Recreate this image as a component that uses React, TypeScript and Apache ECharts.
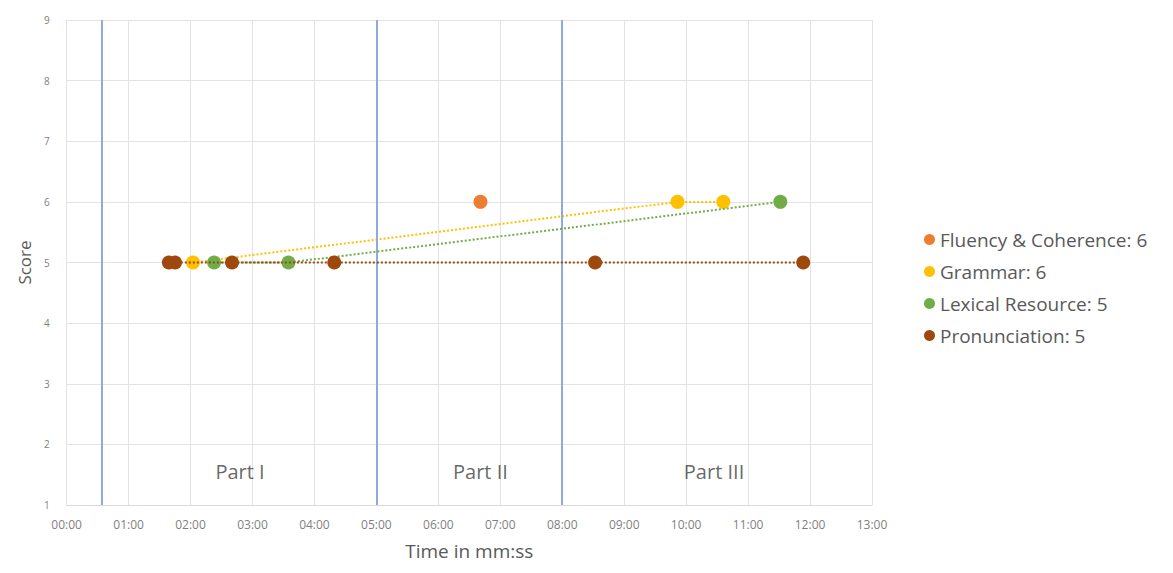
import { useEffect, useRef } from "react";
import * as echarts from "echarts";

// times are in minutes, scores on the 1-9 band scale
const fluencyTimes = [6.68];
const fluencyScores = [6];
const grammarTimes = [2.04, 9.86, 10.6];
const grammarScores = [5, 6, 6];
const lexicalTimes = [2.38, 3.58, 11.52];
const lexicalScores = [5, 5, 6];
const pronunciationTimes = [1.65, 1.75, 2.67, 4.32, 8.53, 11.89];
const pronunciationScores = [5, 5, 5, 5, 5, 5];

const seriesNames = [
  "Fluency & Coherence: 6",
  "Grammar: 6",
  "Lexical Resource: 5",
  "Pronunciation: 5",
];
const seriesColors = ["#ED7D31", "#FFC000", "#70AD47", "#9E480E"];

// part boundaries (minutes) and part labels
const partBounds = [0.56, 5, 8];
const partLabels = ["Part I", "Part II", "Part III"];
const partLabelTimes = [2.8, 6.68, 10.45];
const partLabelScore = 1.55;

const FONT = "'Open Sans', Lato, sans-serif";

function toPairs(xs: number[], ys: number[]): [number, number][] {
  return xs.map((x, i) => [x, ys[i]]);
}

function fmtTime(v: number): string {
  return String(Math.round(v)).padStart(2, "0") + ":00";
}

function App() {
  const chartRef = useRef<HTMLDivElement>(null);

  useEffect(() => {
    if (!chartRef.current) return;
    const chart = echarts.init(chartRef.current, null, { renderer: "svg" });

    const seriesData = [
      toPairs(fluencyTimes, fluencyScores),
      toPairs(grammarTimes, grammarScores),
      toPairs(lexicalTimes, lexicalScores),
      toPairs(pronunciationTimes, pronunciationScores),
    ];

    chart.setOption({
      animation: false,
      textStyle: { fontFamily: FONT },
      grid: { left: 52, right: 293, top: 12, bottom: 53 },
      legend: {
        orient: "vertical",
        left: 911,
        top: 217,
        itemGap: 13,
        icon: "circle",
        itemWidth: 11,
        itemHeight: 11,
        textStyle: { fontSize: 19, color: "#595959", fontFamily: FONT },
        data: seriesNames,
      },
      xAxis: {
        type: "value",
        min: 0,
        max: 13,
        interval: 1,
        name: "Time in mm:ss",
        nameLocation: "middle",
        nameGap: 36,
        nameTextStyle: { fontSize: 19, color: "#595959" },
        axisLine: { show: true, lineStyle: { color: "#D9D9D9" } },
        axisTick: { show: false },
        axisLabel: {
          fontSize: 12,
          color: "#7f7f7f",
          margin: 13,
          formatter: fmtTime,
        },
        splitLine: { show: true, lineStyle: { color: "#E3E3E3" } },
      },
      yAxis: {
        type: "value",
        min: 1,
        max: 9,
        interval: 1,
        name: "Score",
        nameLocation: "middle",
        nameGap: 33,
        nameTextStyle: { fontSize: 17, color: "#595959" },
        axisLine: { show: false },
        axisTick: { show: false },
        axisLabel: { fontSize: 10, color: "#7f7f7f", margin: 17 },
        splitLine: { show: true, lineStyle: { color: "#E3E3E3" } },
      },
      series: [
        ...seriesData.map((d, i) => ({
          name: seriesNames[i],
          type: "line",
          data: d,
          symbol: "circle",
          symbolSize: 14,
          showSymbol: true,
          itemStyle: { color: seriesColors[i] },
          lineStyle: { color: seriesColors[i], width: 2, type: "dotted" },
          z: 3 + i,
        })),
        {
          name: "bounds",
          type: "line",
          data: [],
          silent: true,
          markLine: {
            symbol: "none",
            silent: true,
            label: { show: false },
            lineStyle: { color: "#8FAADC", width: 2, type: "solid" },
            data: partBounds.map((x) => ({ xAxis: x })),
          },
          z: 2,
        },
        {
          name: "parts",
          type: "scatter",
          silent: true,
          symbolSize: 0,
          data: partLabelTimes.map((x) => [x, partLabelScore]),
          label: {
            show: true,
            position: "inside",
            fontSize: 20,
            color: "#404040",
            formatter: (p: { dataIndex: number }) => partLabels[p.dataIndex],
          },
        },
      ],
    });

    return () => {
      chart.dispose();
    };
  }, []);

  return <div ref={chartRef} style={{ width: "1157px", height: "557px" }} />;
}

export default App;
